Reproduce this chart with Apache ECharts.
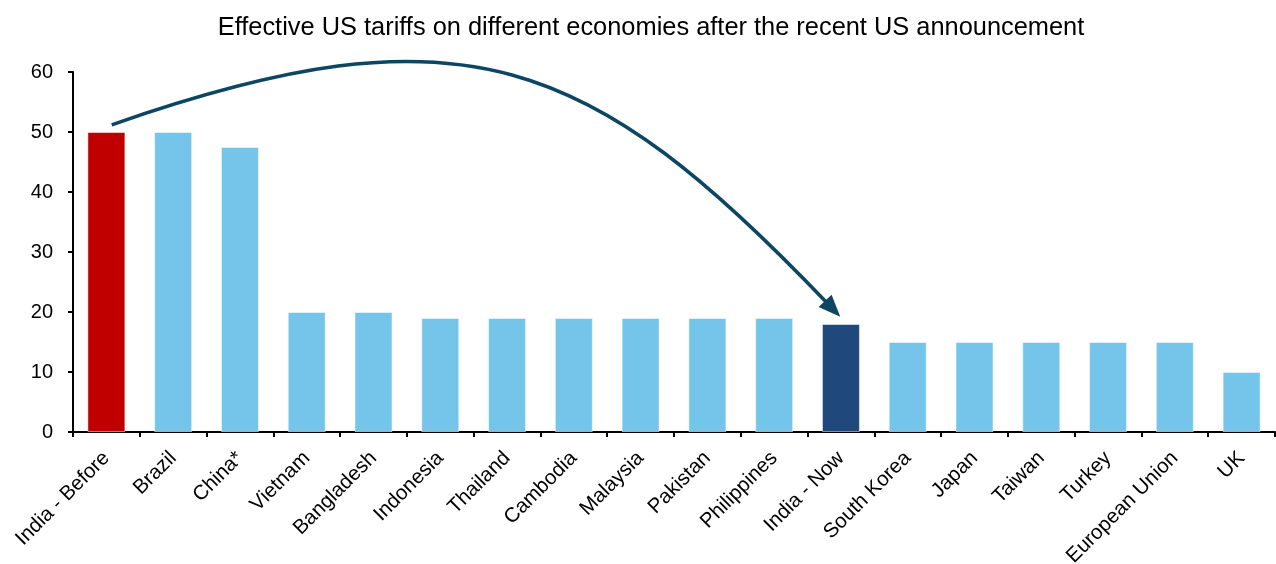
<!DOCTYPE html>
<html>
<head>
<meta charset="utf-8">
<title>Effective US tariffs</title>
<script src="https://cdn.jsdelivr.net/npm/echarts@6/dist/echarts.min.js"></script>
<style>
  html, body { margin: 0; padding: 0; background: #fff; }
  #main { width: 1276px; height: 564px; }
</style>
</head>
<body>
<div id="main"></div>
<script>
var categories = ["India - Before", "Brazil", "China*", "Vietnam", "Bangladesh", "Indonesia",
  "Thailand", "Cambodia", "Malaysia", "Pakistan", "Philippines", "India - Now",
  "South Korea", "Japan", "Taiwan", "Turkey", "European Union", "UK"];
var tariffs = [50, 50, 47.5, 20, 20, 19, 19, 19, 19, 19, 19, 18, 15, 15, 15, 15, 15, 10];
var highlight = { "India - Before": "#C00000", "India - Now": "#1F497D" };
var yTicks = [0, 10, 20, 30, 40, 50, 60];

var fontFamily = "Liberation Sans, Arial, sans-serif";
var arrowColor = "#0C4662";

var chart = echarts.init(document.getElementById("main"));

var barData = tariffs.map(function (v, i) {
  return {
    value: v,
    itemStyle: { color: highlight[categories[i]] || "#75C5EA" }
  };
});

var option = {
  animation: false,
  title: {
    text: "Effective US tariffs on different economies after the recent US announcement",
    left: 646,
    textAlign: "center",
    top: 10,
    textStyle: { fontFamily: fontFamily, fontSize: 25.4, fontWeight: "normal", color: "#000" }
  },
  grid: { left: 73, right: 1, top: 72, bottom: 132, containLabel: false, outerBoundsMode: "none" },
  xAxis: {
    type: "category",
    data: categories,
    boundaryGap: true,
    axisLine: { lineStyle: { color: "#000", width: 2 } },
    axisTick: { show: true, length: 5, alignWithLabel: false, lineStyle: { color: "#000", width: 2 } },
    axisLabel: {
      interval: 0,
      rotate: 45,
      margin: 23,
      color: "#000",
      fontFamily: fontFamily,
      fontSize: 20.5
    }
  },
  yAxis: {
    type: "value",
    min: yTicks[0],
    max: yTicks[yTicks.length - 1],
    interval: 10,
    axisLine: { show: true, lineStyle: { color: "#000", width: 2 } },
    axisTick: { show: true, length: 5, lineStyle: { color: "#000", width: 2 } },
    splitLine: { show: false },
    axisLabel: { margin: 20, color: "#000", fontFamily: fontFamily, fontSize: 20 }
  },
  series: [{
    type: "bar",
    data: barData,
    barWidth: 38,
    itemStyle: { borderColor: "rgba(255,255,255,0.5)", borderWidth: 1 }
  }]
};
chart.setOption(option);

// curved arrow from "India - Before" to "India - Now", placed with the axes
function px(f, v) {
  var a = chart.convertToPixel({ gridIndex: 0 }, [0, v]);
  var b = chart.convertToPixel({ gridIndex: 0 }, [1, v]);
  return [a[0] + (b[0] - a[0]) * f, a[1]];
}
var p0 = px(0.08, 51.2);
var p1 = px(5.33, 71.6);
var p2 = px(7.24, 62.9);
var p3 = px(10.99, 19.2);
var dx = p3[0] - p2[0], dy = p3[1] - p2[1];
var len = Math.sqrt(dx * dx + dy * dy);
var ux = dx / len, uy = dy / len;
var headLen = 22, headHalf = 9;
var base = [p3[0] - ux * headLen, p3[1] - uy * headLen];
var lineEnd = [p3[0] - ux * (headLen - 4), p3[1] - uy * (headLen - 4)];

chart.setOption({
  graphic: [
    {
      type: "bezierCurve",
      shape: { x1: p0[0], y1: p0[1], cpx1: p1[0], cpy1: p1[1], cpx2: p2[0], cpy2: p2[1], x2: lineEnd[0], y2: lineEnd[1] },
      style: { stroke: arrowColor, lineWidth: 3.5, fill: null },
      z: 10
    },
    {
      type: "polygon",
      shape: {
        points: [
          p3,
          [base[0] - uy * headHalf, base[1] + ux * headHalf],
          [base[0] + uy * headHalf, base[1] - ux * headHalf]
        ]
      },
      style: { fill: arrowColor },
      z: 10
    }
  ]
});
</script>
</body>
</html>
